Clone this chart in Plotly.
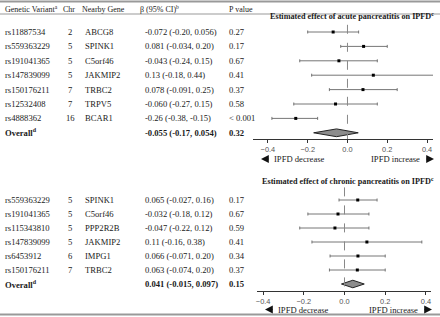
import plotly.graph_objects as go

W, H = 440, 317

# ---------------- data ----------------
acute_variant = ["rs11887534", "rs559363229", "rs191041365", "rs147839099",
                 "rs150176211", "rs12532408", "rs4888362"]
acute_chr = ["2", "5", "5", "5", "7", "7", "16"]
acute_gene = ["ABCG8", "SPINK1", "C5orf46", "JAKMIP2", "TRBC2", "TRPV5", "BCAR1"]
acute_beta = [-0.072, 0.081, -0.043, 0.13, 0.078, -0.060, -0.26]
acute_lo = [-0.20, -0.034, -0.24, -0.18, -0.091, -0.27, -0.38]
acute_hi = [0.056, 0.20, 0.15, 0.44, 0.25, 0.15, -0.15]
acute_ci_text = ["-0.072 (-0.20, 0.056)", "0.081 (-0.034, 0.20)", "-0.043 (-0.24, 0.15)",
                 "0.13 (-0.18, 0.44)", "0.078 (-0.091, 0.25)", "-0.060 (-0.27, 0.15)",
                 "-0.26 (-0.38, -0.15)"]
acute_p = ["0.27", "0.17", "0.67", "0.41", "0.37", "0.58", "< 0.001"]
acute_overall = [-0.055, -0.17, 0.054]
acute_overall_text = "-0.055 (-0.17, 0.054)"
acute_overall_p = "0.32"

chronic_variant = ["rs559363229", "rs191041365", "rs115343810", "rs147839099",
                   "rs6453912", "rs150176211"]
chronic_chr = ["5", "5", "5", "5", "6", "7"]
chronic_gene = ["SPINK1", "C5orf46", "PPP2R2B", "JAKMIP2", "IMPG1", "TRBC2"]
chronic_beta = [0.065, -0.032, -0.047, 0.11, 0.066, 0.063]
chronic_lo = [-0.027, -0.18, -0.22, -0.16, -0.071, -0.074]
chronic_hi = [0.16, 0.12, 0.12, 0.38, 0.20, 0.20]
chronic_ci_text = ["0.065 (-0.027, 0.16)", "-0.032 (-0.18, 0.12)", "-0.047 (-0.22, 0.12)",
                   "0.11 (-0.16, 0.38)", "0.066 (-0.071, 0.20)", "0.063 (-0.074, 0.20)"]
chronic_p = ["0.17", "0.67", "0.59", "0.41", "0.34", "0.37"]
chronic_overall = [0.041, -0.015, 0.097]
chronic_overall_text = "0.041 (-0.015, 0.097)"
chronic_overall_p = "0.15"

tick_vals = [-0.4, -0.2, 0.0, 0.2, 0.4]
headers = ["Genetic Variant<sup>a</sup>", "Chr", "Nearby Gene", "β (95% CI)<sup>b</sup>", "P value"]
titles = ["Estimated effect of acute pancreatitis on IPFD<sup>c</sup>",
          "Estimated effect of chronic pancreatitis on IPFD<sup>c</sup>"]

# ---------------- helpers ----------------
def px(x):
    return x / W

def py(y):
    return 1 - y / H

SERIF = "Liberation Serif"
TXT = "#1a1a1a"
FS = 8.6

fig = go.Figure()
annotations = []
shapes = []

col_x = {"var": 3, "chr": 70, "gene": 83, "beta": 143, "p": 227}

panels = [
    dict(xa="x", ya="y", variant=acute_variant, chr=acute_chr, gene=acute_gene,
         beta=acute_beta, lo=acute_lo, hi=acute_hi, ci=acute_ci_text, p=acute_p,
         ov=acute_overall, ovt=acute_overall_text, ovp=acute_overall_p,
         title=titles[0], title_y=16, xr=[-0.475, 0.43], xdom=[253, 433],
         row0=32, step=14.4, axis_y=139, top_y=22, zero_top=-0.5, lab_dy=20),
    dict(xa="x2", ya="y2", variant=chronic_variant, chr=chronic_chr, gene=chronic_gene,
         beta=chronic_beta, lo=chronic_lo, hi=chronic_hi, ci=chronic_ci_text, p=chronic_p,
         ov=chronic_overall, ovt=chronic_overall_text, ovp=chronic_overall_p,
         title=titles[1], title_y=181, xr=[-0.43, 0.425], xdom=[257, 431],
         row0=200, step=14.0, axis_y=291, top_y=186, zero_top=-0.9, lab_dy=18.5),
]

for k, P in enumerate(panels):
    n = len(P["variant"])
    ovi = n  # overall row index
    yb = (P["axis_y"] - P["row0"]) / P["step"]
    yt = (P["top_y"] - P["row0"]) / P["step"]
    sfx = "" if k == 0 else "2"
    fig.update_layout(**{
        "xaxis" + sfx: dict(domain=[px(P["xdom"][0]), px(P["xdom"][1])], range=P["xr"],
                            anchor="y" + sfx, showgrid=False, zeroline=False,
                            showline=True, linecolor="#333", linewidth=1,
                            ticks="outside", ticklen=3, tickcolor="#333",
                            tickvals=tick_vals, tickformat=".1f",
                            tickfont=dict(family="Liberation Sans", size=7.4, color="#555"),
                            fixedrange=True),
        "yaxis" + sfx: dict(domain=[py(P["axis_y"]), py(P["top_y"])], range=[yb, yt],
                            anchor="x" + sfx, showgrid=False, zeroline=False,
                            showticklabels=False, showline=False, fixedrange=True),
    })
    rows = list(range(n))
    # zero line
    shapes.append(dict(type="line", xref=P["xa"], yref=P["ya"], x0=0, x1=0,
                       y0=P["zero_top"], y1=yb, line=dict(color="#888", width=1, dash="dash")))
    # estimates with CIs
    fig.add_trace(go.Scatter(
        x=P["beta"], y=rows, mode="markers", xaxis=P["xa"], yaxis=P["ya"],
        marker=dict(symbol="square", size=3, color="#000"),
        error_x=dict(type="data", symmetric=False,
                     array=[h - b for h, b in zip(P["hi"], P["beta"])],
                     arrayminus=[b - l for b, l in zip(P["beta"], P["lo"])],
                     color="#666", thickness=0.9, width=1.5),
        showlegend=False, hoverinfo="skip"))
    # overall diamond
    est, lo, hi = P["ov"]
    hh = 0.27
    fig.add_trace(go.Scatter(
        x=[lo, est, hi, est, lo], y=[ovi, ovi - hh, ovi, ovi + hh, ovi],
        mode="lines", fill="toself", fillcolor="#8c8c8c",
        line=dict(color="#222", width=1), xaxis=P["xa"], yaxis=P["ya"],
        showlegend=False, hoverinfo="skip"))
    # table text
    for i in range(n):
        for key, txt, anchor in [("var", P["variant"][i], "left"), ("chr", P["chr"][i], "center"),
                                 ("gene", P["gene"][i], "left"), ("beta", P["ci"][i], "left"),
                                 ("p", P["p"][i], "left")]:
            annotations.append(dict(x=px(col_x[key]), y=i, xref="paper", yref=P["ya"],
                                    text=txt, showarrow=False, xanchor=anchor, yanchor="middle",
                                    font=dict(family=SERIF, size=FS, color=TXT)))
    for key, txt in [("var", "<b>Overall<sup>d</sup></b>"), ("beta", "<b>" + P["ovt"] + "</b>"),
                     ("p", "<b>" + P["ovp"] + "</b>")]:
        annotations.append(dict(x=px(col_x[key]), y=ovi, xref="paper", yref=P["ya"],
                                text=txt, showarrow=False, xanchor="left", yanchor="middle",
                                font=dict(family=SERIF, size=FS, color=TXT)))
    # panel title
    annotations.append(dict(x=px(436), y=py(P["title_y"]), xref="paper", yref="paper",
                            text="<b>" + P["title"] + "</b>", showarrow=False,
                            xanchor="right", yanchor="middle",
                            font=dict(family=SERIF, size=8.2, color=TXT)))
    # direction labels
    lab_y = P["axis_y"] + P["lab_dy"]
    annotations.append(dict(x=px(P["xdom"][0] + 19), y=py(lab_y), xref="paper", yref="paper",
                            text="IPFD decrease", showarrow=False, xanchor="left", yanchor="middle",
                            font=dict(family=SERIF, size=FS, color=TXT)))
    annotations.append(dict(x=px(P["xdom"][1] - 11), y=py(lab_y), xref="paper", yref="paper",
                            text="IPFD increase", showarrow=False, xanchor="right", yanchor="middle",
                            font=dict(family=SERIF, size=FS, color=TXT)))
    # arrows
    annotations.append(dict(x=px(P["xdom"][0] + 8), y=py(lab_y), ax=9, ay=0,
                            xref="paper", yref="paper", axref="pixel", ayref="pixel",
                            text="", showarrow=True, arrowhead=2, arrowsize=1.3, arrowwidth=1.2,
                            arrowcolor="#111"))
    annotations.append(dict(x=px(P["xdom"][1] + 1), y=py(lab_y), ax=-9, ay=0,
                            xref="paper", yref="paper", axref="pixel", ayref="pixel",
                            text="", showarrow=True, arrowhead=2, arrowsize=1.3, arrowwidth=1.2,
                            arrowcolor="#111"))

# header
hx = [3, 61, 80, 138, 227]
for h, x in zip(headers, hx):
    annotations.append(dict(x=px(x), y=py(9), xref="paper", yref="paper", text=h,
                            showarrow=False, xanchor="left", yanchor="middle",
                            font=dict(family=SERIF, size=8.0, color=TXT)))

# rules
shapes.append(dict(type="line", xref="paper", yref="paper", x0=0, x1=1, y0=py(1.5), y1=py(1.5),
                   line=dict(color="#999", width=2)))
shapes.append(dict(type="line", xref="paper", yref="paper", x0=0, x1=1, y0=py(14), y1=py(14),
                   line=dict(color="#999", width=1)))
shapes.append(dict(type="line", xref="paper", yref="paper", x0=0, x1=1, y0=py(314.5), y1=py(314.5),
                   line=dict(color="#999", width=2)))

fig.update_layout(width=W, height=H, margin=dict(l=0, r=0, t=0, b=0),
                  paper_bgcolor="white", plot_bgcolor="white",
                  annotations=annotations, shapes=shapes, showlegend=False)

fig.write_html("out.html", config={"displayModeBar": False},
               post_script="document.body.style.margin='0';document.body.style.overflow='hidden';")
